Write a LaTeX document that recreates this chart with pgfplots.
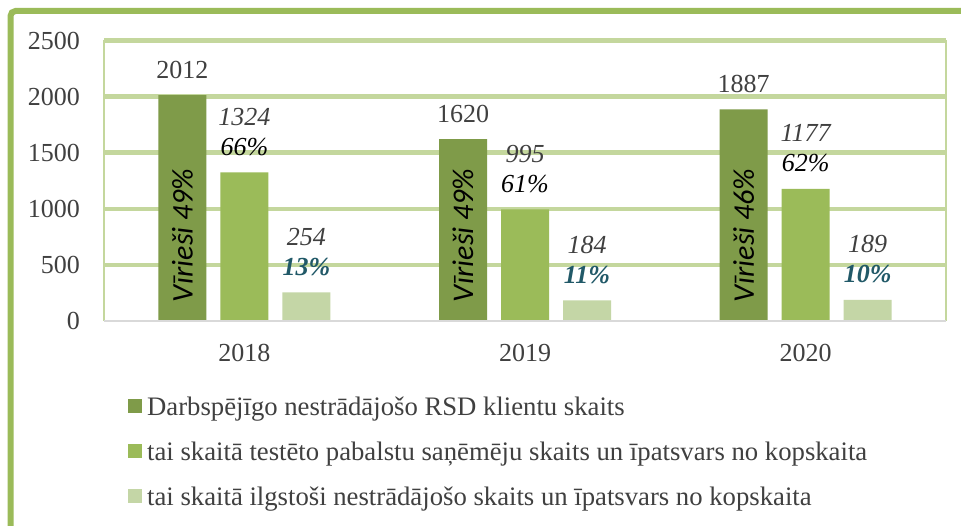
\documentclass[border=0pt]{standalone}
\usepackage{pgfplots}
\pgfplotsset{compat=1.18}
\usepackage{fontspec}
\setmainfont{Liberation Serif}
\newfontfamily\carlito{Carlito}
\definecolor{cdark}{HTML}{7F9B49}
\definecolor{cmid}{HTML}{9BBB59}
\definecolor{clight}{HTML}{C4D6A6}
\definecolor{gridg}{HTML}{C4D79D}
\definecolor{frameg}{HTML}{9BBB59}
\definecolor{txtg}{HTML}{404040}
\definecolor{pteal}{HTML}{215968}
\newcommand\lab{\fontsize{26}{30}\selectfont}
\newcommand\vf{\carlito\itshape\fontsize{30}{34}\selectfont}
\begin{document}
\begin{tikzpicture}[x=1pt,y=1pt]
\useasboundingbox (0,0) rectangle (961,526);
\fill[white] (0,0) rectangle (961,526);
\draw[frameg, line width=6pt, rounded corners=5pt] (10.5,-20) -- (10.5,515) -- (990,515);
\begin{axis}[
  at={(104pt,205pt)}, anchor=south west, scale only axis,
  width=842pt, height=280.5pt,
  xmin=-0.5, xmax=2.5, ymin=0, ymax=2500,
  ybar, bar width=48pt, clip=false,
  xtick={0,1,2}, xticklabels={2018,2019,2020},
  ytick={500,1000,1500,2000,2500},
  extra y ticks={0}, extra y tick style={grid=none},
  ymajorgrids, major grid style={gridg, line width=4.5pt},
  major tick length=0pt,
  axis line style={draw=none},
  tick label style={font=\lab, text=txtg, inner sep=0pt},
  yticklabel style={anchor=east, xshift=-24pt},
  xticklabel style={anchor=north, yshift=-23pt},
  /pgf/number format/assume math mode=true,
  /pgf/number format/1000 sep={},
  legend style={at={(axis description cs:0.0285,-0.2635)}, anchor=north west,
    draw=none, fill=none, inner sep=0pt, font=\fontsize{26.7}{31}\selectfont,
    text=txtg, row sep=19pt, column sep=5pt,
    nodes={inner sep=0pt, text height=20pt, text depth=6pt}},
  legend cell align=left,
  legend image code/.code={\fill[#1] (0pt,-5pt) rectangle (14pt,9pt);},
]
\addplot[fill=cdark, draw=none, bar shift=-62pt,
  nodes near coords, nodes near coords style={font=\lab, text=txtg, anchor=base, inner sep=0pt, yshift=17pt}]
  coordinates {(0,2012) (1,1620) (2,1887)};
\addlegendentry{Darbspējīgo nestrādājošo RSD klientu skaits}
\addplot[fill=cmid, draw=none, bar shift=0pt, point meta=explicit symbolic,
  nodes near coords, nodes near coords style={font=\lab\itshape, text=black, anchor=base, inner sep=0pt, yshift=17pt}]
  coordinates {(0,1324)[66\%] (1,995)[61\%] (2,1177)[62\%]};
\addlegendentry{tai skaitā testēto pabalstu saņēmēju skaits un īpatsvars no kopskaita}
\addplot[fill=clight, draw=none, bar shift=62pt, point meta=explicit symbolic,
  nodes near coords, nodes near coords style={font=\lab\bfseries\itshape, text=pteal, anchor=base, inner sep=0pt, yshift=17pt}]
  coordinates {(0,254)[13\%] (1,184)[11\%] (2,189)[10\%]};
\addlegendentry{tai skaitā ilgstoši nestrādājošo skaits un īpatsvars no kopskaita}
% number labels above percentages
\addplot[draw=none, fill=none, bar shift=0pt, forget plot,
  nodes near coords, nodes near coords style={font=\lab\itshape, text=txtg, anchor=base, inner sep=0pt, yshift=47pt}]
  coordinates {(0,1324) (1,995) (2,1177)};
\addplot[draw=none, fill=none, bar shift=62pt, forget plot,
  nodes near coords, nodes near coords style={font=\lab\itshape, text=txtg, anchor=base, inner sep=0pt, yshift=47pt}]
  coordinates {(0,254) (1,184) (2,189)};
% rotated labels inside dark bars
\addplot[draw=none, fill=none, bar shift=-62pt, forget plot, point meta=explicit symbolic,
  nodes near coords, nodes near coords style={font=\vf, text=black, inner sep=0pt, yshift=18pt, rotate=90, anchor=west}]
  coordinates {(0,0)[Vīrieši 49\%] (1,0)[Vīrieši 49\%] (2,0)[Vīrieši 46\%]};
\draw[gridg, line width=2pt] (rel axis cs:0,0) -- (rel axis cs:0,1);
\draw[gridg, line width=2pt] (rel axis cs:1,0) -- (rel axis cs:1,1);
\draw[black!15, line width=2pt] (rel axis cs:0,0) -- (rel axis cs:1,0);
\end{axis}
\end{tikzpicture}
\end{document}
